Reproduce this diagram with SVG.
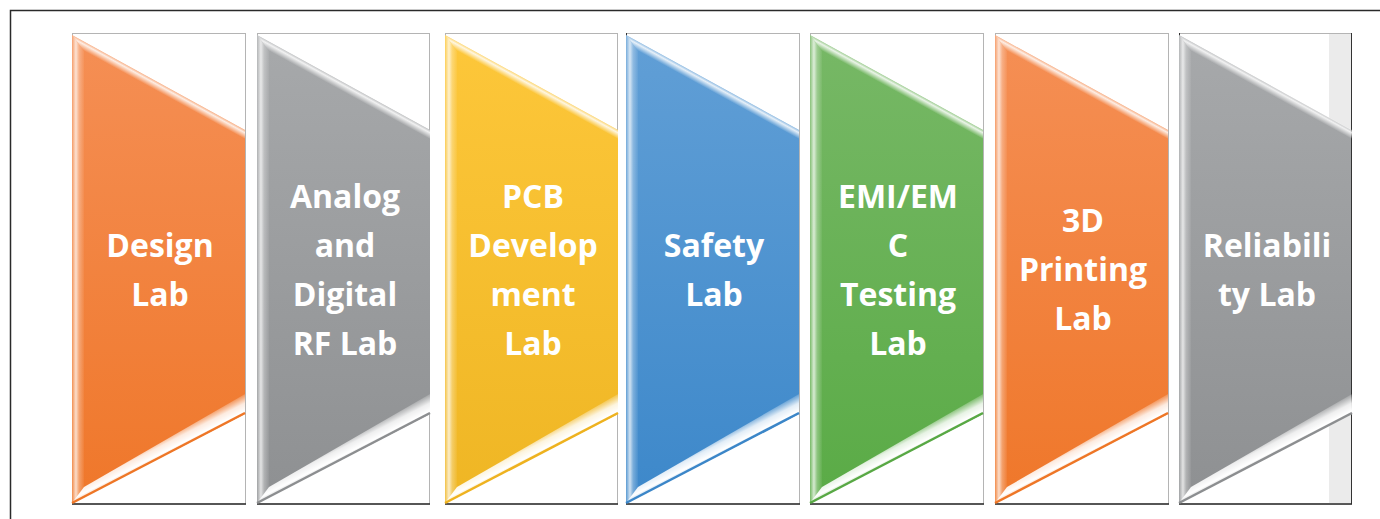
<svg xmlns="http://www.w3.org/2000/svg" xmlns:xlink="http://www.w3.org/1999/xlink" width="1380" height="519" viewBox="0 0 1380 519">
<style>
.frame{fill:#fff;stroke:#b4b4b4;stroke-width:1}
.base{stroke:#2a2a2a;stroke-width:1.5}
.lbl{font-family:"Open Sans","Liberation Sans",sans-serif;font-weight:700;font-size:32px;fill:#fff;text-anchor:middle}
.orange{color:#ee7626}
.gray{color:#8c8e90}
.yellow{color:#eeb21f}
.blue{color:#3b86c8}
.green{color:#58a844}
</style>
<defs>
<linearGradient id="gOrange" x1="0" y1="0" x2="0" y2="1"><stop offset="0" stop-color="#f58f55"/><stop offset="1" stop-color="#ef772a"/></linearGradient>
<linearGradient id="gGray" x1="0" y1="0" x2="0" y2="1"><stop offset="0" stop-color="#a7a9ab"/><stop offset="1" stop-color="#8e9092"/></linearGradient>
<linearGradient id="gYellow" x1="0" y1="0" x2="0" y2="1"><stop offset="0" stop-color="#fdc73a"/><stop offset="1" stop-color="#efb624"/></linearGradient>
<linearGradient id="gBlue" x1="0" y1="0" x2="0" y2="1"><stop offset="0" stop-color="#619fd6"/><stop offset="1" stop-color="#3d88ca"/></linearGradient>
<linearGradient id="gGreen" x1="0" y1="0" x2="0" y2="1"><stop offset="0" stop-color="#77b866"/><stop offset="1" stop-color="#5aab46"/></linearGradient>
<linearGradient id="bvL" gradientUnits="userSpaceOnUse" x1="0" y1="0" x2="13" y2="0"><stop offset="0" stop-color="#fff" stop-opacity="0.15"/><stop offset="0.3" stop-color="#fff" stop-opacity="0.75"/><stop offset="0.55" stop-color="#fff" stop-opacity="0.3"/><stop offset="1" stop-color="#fff" stop-opacity="0"/></linearGradient>
<linearGradient id="bvT" gradientUnits="userSpaceOnUse" x1="86.5" y1="82.5" x2="82.6" y2="89.6"><stop offset="0" stop-color="#fff" stop-opacity="0.35"/><stop offset="0.3" stop-color="#fff" stop-opacity="0.85"/><stop offset="1" stop-color="#fff" stop-opacity="0"/></linearGradient>
<linearGradient id="bvB" gradientUnits="userSpaceOnUse" x1="86.5" y1="458.5" x2="77.4" y2="440.7"><stop offset="0" stop-color="#fff" stop-opacity="0.7"/><stop offset="0.15" stop-color="#fff" stop-opacity="1"/><stop offset="0.5" stop-color="#fff" stop-opacity="0.85"/><stop offset="1" stop-color="#fff" stop-opacity="0"/></linearGradient>
<g id="bevel">
<polygon points="0,35 12,51 12,490 0,503" fill="url(#bvL)"/>
<polygon points="0,35 173,130 173,139 12,51" fill="url(#bvT)"/>
<polygon points="0,503 12,487 173,394 173,414" fill="url(#bvB)"/>
<line x1="0" y1="503" x2="173" y2="413" stroke="currentColor" stroke-width="2.5"/>
</g>
</defs>
<rect x="10.5" y="10.5" width="1400" height="600" fill="#fff" stroke="#2a2a2a" stroke-width="1.5"/>
<g id="connectors"/>

<g id="design-lab" class="orange" transform="translate(72,0)">
<rect class="frame" x="0.5" y="33.5" width="173" height="470.5"/>
<line class="base" x1="0" y1="504" x2="174" y2="504"/>
<polygon points="0,35 173,130 173,414 0,503" fill="url(#gOrange)"/>
<use href="#bevel" xlink:href="#bevel"/>
<text class="lbl" x="88"><tspan x="88" y="257">Design</tspan><tspan x="88" y="306">Lab</tspan></text>
</g>

<g id="analog-digital-rf-lab" class="gray" transform="translate(257,0)">
<rect class="frame" x="0.5" y="33.5" width="172" height="470.5"/>
<line class="base" x1="0" y1="504" x2="173" y2="504"/>
<polygon points="0,35 173,130 173,414 0,503" fill="url(#gGray)"/>
<use href="#bevel" xlink:href="#bevel"/>
<text class="lbl" x="88"><tspan x="88" y="208">Analog</tspan><tspan x="88" y="257">and</tspan><tspan x="88" y="306">Digital</tspan><tspan x="88" y="355">RF Lab</tspan></text>
</g>

<g id="pcb-development-lab" class="yellow" transform="translate(445,0)">
<rect class="frame" x="0.5" y="33.5" width="172" height="470.5"/>
<line class="base" x1="0" y1="504" x2="173" y2="504"/>
<polygon points="0,35 173,130 173,414 0,503" fill="url(#gYellow)"/>
<use href="#bevel" xlink:href="#bevel"/>
<text class="lbl" x="88"><tspan x="88" y="208">PCB</tspan><tspan x="88" y="257">Develop</tspan><tspan x="88" y="306">ment</tspan><tspan x="88" y="355">Lab</tspan></text>
</g>

<g id="safety-lab" class="blue" transform="translate(626,0)">
<rect class="frame" x="0.5" y="33.5" width="173" height="470.5"/>
<line x1="0.5" y1="33" x2="0.5" y2="504" stroke="#333" stroke-width="1"/>
<line class="base" x1="0" y1="504" x2="174" y2="504"/>
<polygon points="0,35 173,130 173,414 0,503" fill="url(#gBlue)"/>
<use href="#bevel" xlink:href="#bevel"/>
<text class="lbl" x="88"><tspan x="88" y="257">Safety</tspan><tspan x="88" y="306">Lab</tspan></text>
</g>

<g id="emi-emc-testing-lab" class="green" transform="translate(810,0)">
<rect class="frame" x="0.5" y="33.5" width="173" height="470.5"/>
<line class="base" x1="0" y1="504" x2="174" y2="504"/>
<polygon points="0,35 173,130 173,414 0,503" fill="url(#gGreen)"/>
<use href="#bevel" xlink:href="#bevel"/>
<text class="lbl" x="88"><tspan x="88" y="208">EMI/EM</tspan><tspan x="88" y="257">C</tspan><tspan x="88" y="306">Testing</tspan><tspan x="88" y="355">Lab</tspan></text>
</g>

<g id="3d-printing-lab" class="orange" transform="translate(995,0)">
<rect class="frame" x="0.5" y="33.5" width="173" height="470.5"/>
<line class="base" x1="0" y1="504" x2="174" y2="504"/>
<polygon points="0,35 173,130 173,414 0,503" fill="url(#gOrange)"/>
<use href="#bevel" xlink:href="#bevel"/>
<text class="lbl" x="88"><tspan x="88" y="232">3D</tspan><tspan x="88" y="281">Printing</tspan><tspan x="88" y="330">Lab</tspan></text>
</g>

<g id="reliability-lab" class="gray" transform="translate(1179,0)">
<rect class="frame" x="0.5" y="33.5" width="172" height="470.5"/>
<rect x="150" y="34" width="22" height="470" fill="#ebebeb"/>
<line x1="172.5" y1="33" x2="172.5" y2="504" stroke="#333" stroke-width="1"/>
<line x1="0.5" y1="33" x2="0.5" y2="504" stroke="#333" stroke-width="1"/>
<line class="base" x1="0" y1="504" x2="173" y2="504"/>
<polygon points="0,35 172,130 172,414 0,503" fill="url(#gGray)"/>
<use href="#bevel" xlink:href="#bevel"/>
<text class="lbl" x="88"><tspan x="88" y="257">Reliabili</tspan><tspan x="88" y="306">ty Lab</tspan></text>
</g>
</svg>
